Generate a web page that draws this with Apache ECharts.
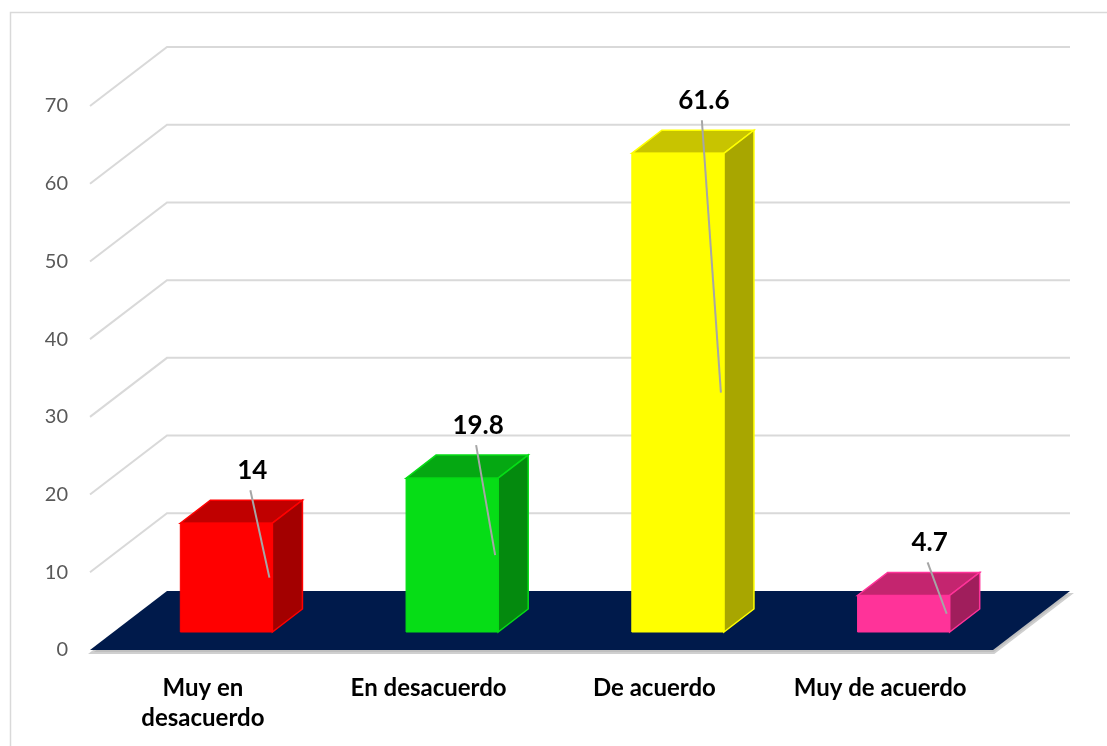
<html>
<head>
<meta charset="UTF-8">
<script src="https://cdn.jsdelivr.net/npm/echarts@6/dist/echarts.min.js"></script>
<title>Grafico</title>
<style>
  body { margin: 0; background: #fff; }
  #main { width: 1107px; height: 746px; }
</style>
</head>
<body>
<div id="main"></div>
<script type="text/javascript">
	// datos del grafico
	var categorias = ['Muy en\ndesacuerdo', 'En desacuerdo', 'De acuerdo', 'Muy de acuerdo'];
	var valores = [14, 19.8, 61.6, 4.7];
	var marcas = [10, 20, 30, 40, 50, 60, 70];

	// colores: frente, techo, lado
	var frente = ['#FF0000', '#06DD16', '#FFFF00', '#FF3399'];
	var techo = ['#C00000', '#05A812', '#C8C400', '#C4256F'];
	var lado = ['#A30000', '#048A0E', '#A8A600', '#A01E5C'];

	// profundidad del piso en pixeles
	var DX = 77, DY = -59;
	var D0 = 0.305, D1 = 0.695;

	var myChart = echarts.init(document.getElementById('main'));

	function paredes(params, api) {
		var cs = params.coordSys;
		var p = api.coord([0, api.value(0)]);
		var y = p[1];
		return {
			type : 'polyline',
			shape : {
				points : [ [ cs.x, y ], [ cs.x + DX, y + DY ], [ cs.x + cs.width + DX, y + DY ] ]
			},
			style : { stroke : '#D9D9D9', lineWidth : 2, fill : null }
		};
	}

	function piso(params, api) {
		var cs = params.coordSys;
		var y = api.coord([0, 0])[1];
		var pts = [ [ cs.x, y ], [ cs.x + cs.width, y ], [ cs.x + cs.width + DX, y + DY ], [ cs.x + DX, y + DY ] ];
		var sombra = pts.map(function(q) { return [ q[0] + 1, q[1] + 3 ]; });
		return {
			type : 'group',
			children : [ {
				type : 'polygon',
				shape : { points : sombra },
				style : { fill : '#BFBFBF', stroke : '#CFCFCF', lineWidth : 2 }
			}, {
				type : 'polygon',
				shape : { points : pts },
				style : { fill : '#001A4B' }
			} ]
		};
	}

	function barras(params, api) {
		var i = api.value(0);
		var v = api.value(1);
		var base = api.coord([i, 0]);
		var alto = api.coord([i, v]);
		var band = api.size([1, 0])[0];
		var bw = band * 0.408;
		var fx = base[0] - bw / 2 + DX * D0;
		var yb = base[1] + DY * D0;
		var yt = alto[1] + DY * D0;
		var ddx = DX * (D1 - D0), ddy = DY * (D1 - D0);
		var idx = params.dataIndex;
		var borde = frente[idx];
		var lx = base[0] + DX * D0 + 26;
		var ly = yt + ddy - 30;
		return {
			type : 'group',
			children : [ {
				type : 'polygon',
				shape : { points : [ [ fx, yt ], [ fx + bw, yt ], [ fx + bw + ddx, yt + ddy ], [ fx + ddx, yt + ddy ] ] },
				style : { fill : techo[idx], stroke : borde, lineWidth : 1.5 }
			}, {
				type : 'polygon',
				shape : { points : [ [ fx + bw, yt ], [ fx + bw, yb ], [ fx + bw + ddx, yb + ddy ], [ fx + bw + ddx, yt + ddy ] ] },
				style : { fill : lado[idx], stroke : borde, lineWidth : 1.5 }
			}, {
				type : 'rect',
				shape : { x : fx, y : yt, width : bw, height : yb - yt },
				style : { fill : frente[idx], stroke : borde, lineWidth : 1 }
			}, {
				type : 'line',
				shape : { x1 : lx - 2, y1 : ly + 20, x2 : fx + bw - 3, y2 : (yt + yb) / 2 },
				style : { stroke : '#A6A6A6', lineWidth : 2 }
			}, {
				type : 'text',
				x : lx,
				y : ly,
				style : {
					text : String(v),
					fill : '#000',
					font : 'bold 26px Lato',
					align : 'center',
					verticalAlign : 'middle'
				}
			} ]
		};
	}

	var option = {
		backgroundColor : '#fff',
		animation : false,
		graphic : [ {
			type : 'rect',
			left : 8,
			top : 10,
			shape : { width : 1200, height : 800 },
			style : { fill : null, stroke : '#D9D9D9', lineWidth : 1.5 },
			z : 0
		} ],
		grid : { left : 90, top : 106, width : 903, height : 544 },
		xAxis : {
			type : 'category',
			data : categorias,
			axisLine : { show : false },
			axisTick : { show : false },
			axisLabel : {
				margin : 23,
				color : '#000',
				fontFamily : 'Lato',
				fontWeight : 'bold',
				fontSize : 24,
				lineHeight : 30
			}
		},
		yAxis : {
			type : 'value',
			min : 0,
			max : 70,
			interval : 10,
			axisLine : { show : false },
			axisTick : { show : false },
			splitLine : { show : false },
			axisLabel : { margin : 22, color : '#595959', fontFamily : 'Lato', fontSize : 20 }
		},
		series : [ {
			type : 'custom',
			renderItem : paredes,
			data : marcas.map(function(m) { return [ m ]; }),
			encode : { y : 0 },
			z : 1,
			silent : true
		}, {
			type : 'custom',
			renderItem : piso,
			data : [ [ 0, 0 ] ],
			z : 2,
			silent : true
		}, {
			type : 'custom',
			renderItem : barras,
			data : valores.map(function(v, i) { return [ i, v ]; }),
			encode : { x : 0, y : 1 },
			z : 3
		} ]
	};
	myChart.setOption(option);
</script>
</body>
</html>
